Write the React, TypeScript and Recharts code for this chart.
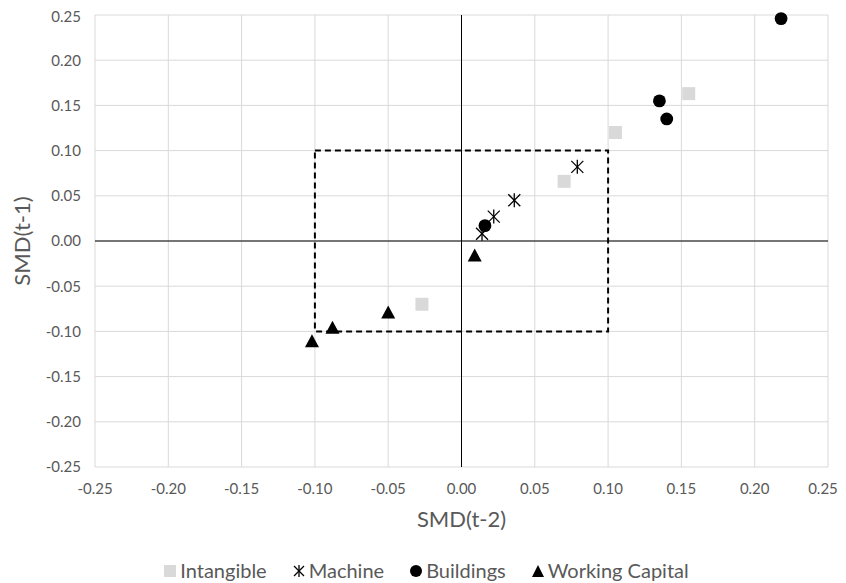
import React from "react";
import {
  ScatterChart,
  Scatter,
  XAxis,
  YAxis,
  CartesianGrid,
  ReferenceLine,
  ReferenceArea,
  Legend,
} from "recharts";

// valores (SMD t-2 vs SMD t-1)
const intangibleX = [-0.027, 0.07, 0.105, 0.155];
const intangibleY = [-0.07, 0.066, 0.12, 0.163];
const machineX = [0.014, 0.022, 0.036, 0.079];
const machineY = [0.008, 0.027, 0.045, 0.082];
const buildingsX = [0.016, 0.135, 0.14, 0.218];
const buildingsY = [0.017, 0.155, 0.135, 0.246];
const workingX = [-0.102, -0.088, -0.05, 0.009];
const workingY = [-0.111, -0.096, -0.079, -0.016];

const ticks = [-0.25, -0.2, -0.15, -0.1, -0.05, 0, 0.05, 0.1, 0.15, 0.2, 0.25];
const seriesNames = ["Intangible", "Machine", "Buildings", "Working Capital"];

const toPoints = (xs: number[], ys: number[]) => xs.map((x, i) => ({ x, y: ys[i] }));

const FONT = "Lato, 'Open Sans', sans-serif";
const TEXT = "#595959";

const Square = (props: any) => {
  const { cx, cy } = props;
  return <rect x={cx - 6.5} y={cy - 6.5} width={13} height={13} fill="#d9d9d9" />;
};

const Asterisk = (props: any) => {
  const { cx, cy } = props;
  return (
    <g stroke="#000" strokeWidth={1.3}>
      <line x1={cx - 6} y1={cy - 6} x2={cx + 6} y2={cy + 6} />
      <line x1={cx + 6} y1={cy - 6} x2={cx - 6} y2={cy + 6} />
      <line x1={cx} y1={cy - 7} x2={cx} y2={cy + 7} />
    </g>
  );
};

const Dot = (props: any) => {
  const { cx, cy } = props;
  return <circle cx={cx} cy={cy} r={6.4} fill="#000" />;
};

const Triangle = (props: any) => {
  const { cx, cy } = props;
  return <polygon points={`${cx},${cy - 7} ${cx + 7},${cy + 6} ${cx - 7},${cy + 6}`} fill="#000" />;
};

// tick do eixo X; o último é puxado um pouco para não ser cortado na borda
const XTick = (props: any) => {
  const { x, y, payload } = props;
  const last = payload.value === ticks[ticks.length - 1];
  return (
    <text
      x={x}
      y={y}
      dy="0.71em"
      dx={last ? -5 : 0}
      textAnchor="middle"
      fontSize={15}
      fill={TEXT}
      fontFamily={FONT}
    >
      {payload.value.toFixed(2)}
    </text>
  );
};

const icons = [
  <rect key="a" x={1} y={1} width={12} height={12} fill="#d9d9d9" />,
  <g key="b" stroke="#000" strokeWidth={1.3}>
    <line x1={2} y1={2} x2={12} y2={12} />
    <line x1={12} y1={2} x2={2} y2={12} />
    <line x1={7} y1={1} x2={7} y2={13} />
  </g>,
  <circle key="c" cx={7} cy={7} r={6} fill="#000" />,
  <polygon key="d" points="7,1 13,13 1,13" fill="#000" />,
];

const LegendBox = () => (
  <div
    style={{
      display: "flex",
      justifyContent: "center",
      gap: 25,
      paddingTop: 16,
      paddingLeft: 16,
      fontFamily: FONT,
      fontSize: 20,
      lineHeight: "23px",
      color: TEXT,
    }}
  >
    {seriesNames.map((name, i) => (
      <span key={name} style={{ display: "flex", alignItems: "center", gap: 3 }}>
        <svg width={14} height={14}>{icons[i]}</svg>
        {name}
      </span>
    ))}
  </div>
);

export default function App() {
  const fmt = (v: number) => v.toFixed(2);
  return (
    <div style={{ width: 838, height: 575 }}>
      <style>{"html, body { overflow: hidden; } .recharts-surface { overflow: visible; }"}</style>
      <ScatterChart width={838} height={575} margin={{ top: 7, right: 18, left: 0, bottom: 0 }}>
        <CartesianGrid stroke="#d9d9d9" />
        <XAxis
          type="number"
          dataKey="x"
          domain={[-0.25, 0.25]}
          ticks={ticks}
          axisLine={false}
          tickLine={false}
          tickMargin={10}
          height={76}
          tick={<XTick />}
          label={{
            value: "SMD(t-2)",
            position: "insideBottom",
            offset: 16,
            style: { fontSize: 22, fill: TEXT, fontFamily: FONT },
          }}
        />
        <YAxis
          type="number"
          dataKey="y"
          domain={[-0.25, 0.25]}
          ticks={ticks}
          tickFormatter={fmt}
          axisLine={false}
          tickLine={false}
          tickMargin={8}
          width={87}
          tick={{ fontSize: 15, fill: TEXT, fontFamily: FONT }}
          label={{
            value: "SMD(t-1)",
            angle: -90,
            position: "insideLeft",
            offset: 14,
            style: { fontSize: 22, fill: TEXT, fontFamily: FONT, textAnchor: "middle" },
          }}
        />
        <ReferenceLine x={0} stroke="#000" strokeWidth={1} />
        <ReferenceLine y={0} stroke="#000" strokeWidth={1} />
        <ReferenceArea
          x1={-0.1}
          x2={0.1}
          y1={-0.1}
          y2={0.1}
          fill="none"
          fillOpacity={0}
          stroke="#000"
          strokeWidth={2}
          strokeDasharray="6 4"
        />
        <Legend verticalAlign="bottom" height={40} content={<LegendBox />} />
        <Scatter name="Intangible" data={toPoints(intangibleX, intangibleY)} shape={Square} isAnimationActive={false} />
        <Scatter name="Machine" data={toPoints(machineX, machineY)} shape={Asterisk} isAnimationActive={false} />
        <Scatter name="Buildings" data={toPoints(buildingsX, buildingsY)} shape={Dot} isAnimationActive={false} />
        <Scatter name="Working Capital" data={toPoints(workingX, workingY)} shape={Triangle} isAnimationActive={false} />
      </ScatterChart>
    </div>
  );
}
